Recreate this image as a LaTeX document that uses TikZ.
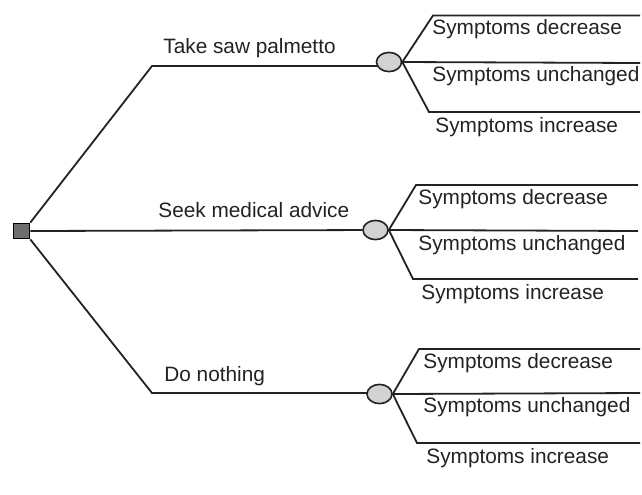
\documentclass[tikz,border=0pt]{standalone}
\usepackage{fontspec}
\setmainfont{Liberation Sans}
\usetikzlibrary{shapes.geometric,backgrounds}
\definecolor{ink}{HTML}{222222}
\definecolor{chancegray}{HTML}{D2D2D2}
\definecolor{decgray}{HTML}{6E6E6E}
\begin{document}
\begin{tikzpicture}[x=0.5pt,y=-0.5pt,
  branch/.style={draw=ink, line width=0.9pt},
  lbl/.style={anchor=west, inner sep=0pt, text=ink, font=\fontsize{10.4}{12}\selectfont},
  chance/.style={ellipse, draw=ink, fill=chancegray, line width=0.8pt, minimum width=12.5pt, minimum height=9.6pt, inner sep=0pt},
  decision/.style={rectangle, draw=black, fill=decgray, line width=0.8pt, minimum width=8pt, minimum height=7.6pt, inner sep=0pt}]
\useasboundingbox (0,0) rectangle (642,494);

% nodes
\node[decision] (dn) at (21.5,231) {};
\node[chance] (c1) at (389,62) {};
\node[chance] (c2) at (375.5,230) {};
\node[chance] (c3) at (379.5,394) {};

% bends and ends
\coordinate (k1) at (152,66);
\coordinate (k3) at (152,393);
\coordinate (o11) at (433,15.5); \coordinate (e11) at (640,15.5);
\coordinate (e12) at (640,63);
\coordinate (o13) at (429,112); \coordinate (e13) at (640,112);
\coordinate (o21) at (416,185); \coordinate (e21) at (638,185);
\coordinate (e22) at (638,231);
\coordinate (o23) at (413,279); \coordinate (e23) at (638,279);
\coordinate (o31) at (419,349); \coordinate (e31) at (640,349);
\coordinate (e32) at (640,393);
\coordinate (o33) at (417,443); \coordinate (e33) at (640,443);

\begin{scope}[on background layer]
\draw[branch] (dn.north east) -- (k1) -- (k1 -| c1);
\draw[branch] (dn.east) -- (c2);
\draw[branch] (dn.south east) -- (k3) -- (k3 -| c3);
\end{scope}

\draw[branch] (c1.east) -- (o11) -- (e11);
\draw[branch] (c1.east) -- (e12);
\draw[branch] (c1.east) -- (o13) -- (e13);
\draw[branch] (c2.east) -- (o21) -- (e21);
\draw[branch] (c2.east) -- (e22);
\draw[branch] (c2.east) -- (o23) -- (e23);
\draw[branch] (c3.east) -- (o31) -- (e31);
\draw[branch] (c3.east) -- (e32);
\draw[branch] (c3.east) -- (o33) -- (e33);

% labels
\node[lbl] (l1) at (163,48) {Take saw palmetto};
\node[lbl] (l2) at (158,210) {Seek medical advice};
\node[lbl] (l3) at (164,376.5) {Do nothing};

\node[lbl] (t11) at (432,29) {Symptoms decrease};
\node[lbl] (t12) at (432,76) {Symptoms unchanged};
\node[lbl] (t13) at (435,127) {Symptoms increase};
\node[lbl] (t21) at (418,199) {Symptoms decrease};
\node[lbl] (t22) at (418,245) {Symptoms unchanged};
\node[lbl] (t23) at (421,294) {Symptoms increase};
\node[lbl] (t31) at (423,363) {Symptoms decrease};
\node[lbl] (t32) at (423,407) {Symptoms unchanged};
\node[lbl] (t33) at (426,458) {Symptoms increase};
\end{tikzpicture}
\end{document}
